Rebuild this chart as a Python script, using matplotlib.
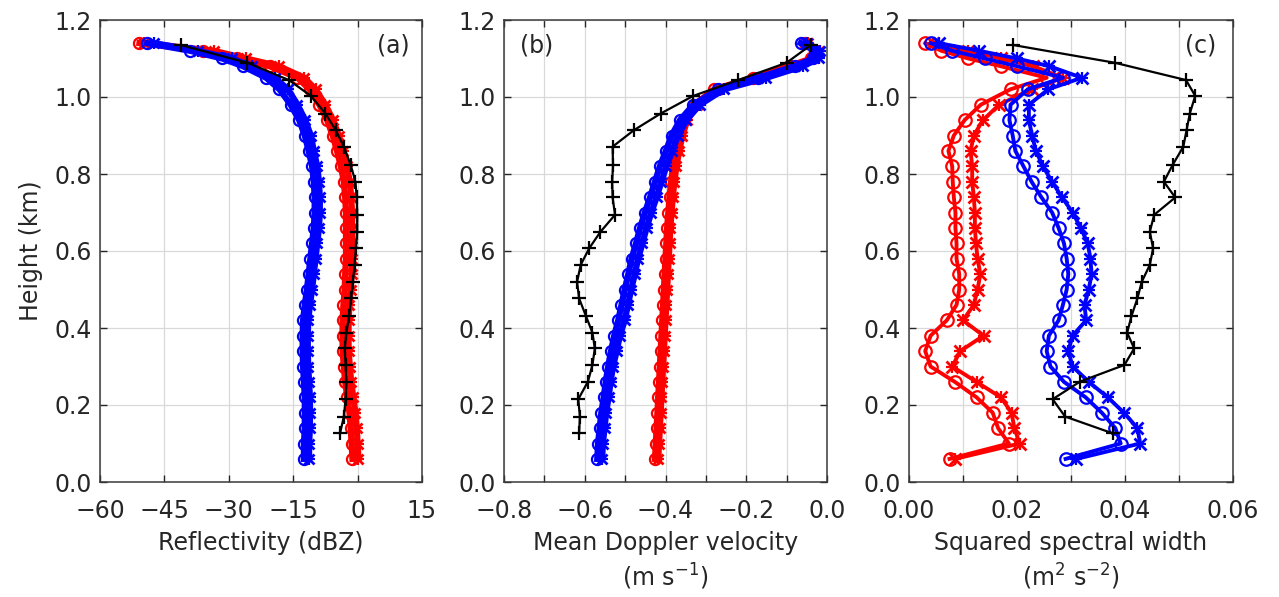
import matplotlib
matplotlib.use("Agg")
import matplotlib.pyplot as plt
from matplotlib.ticker import MultipleLocator, FuncFormatter

plt.rcParams['font.family'] = ['DejaVu Sans']

# heights (km) for red / blue ensembles
h_rb = [0.06, 0.10, 0.14, 0.18, 0.22, 0.26, 0.30, 0.34, 0.38, 0.42, 0.46, 0.50,
        0.54, 0.58, 0.62, 0.66, 0.70, 0.74, 0.78, 0.82, 0.86, 0.90, 0.94, 0.98,
        1.02, 1.05, 1.08, 1.10, 1.12, 1.14]
# heights (km) for black profile
h_blk = [0.126, 0.170, 0.215, 0.261, 0.304, 0.347, 0.388, 0.431, 0.477, 0.520,
         0.564, 0.607, 0.650, 0.694, 0.739, 0.780, 0.823, 0.871, 0.914, 0.957,
         1.003, 1.044, 1.089, 1.135]

# (a) reflectivity (dBZ)
refl_red_1 = [-1.2, -1.4, -1.6, -1.9, -2.4, -2.9, -3.2, -3.5, -3.5, -3.5, -3.3, -3.0,
              -2.9, -2.7, -2.7, -2.7, -2.7, -2.9, -3.2, -3.9, -4.8, -5.8, -7.1, -8.9,
              -11.2, -14.0, -20.5, -28.0, -36.0, -50.8]
refl_red_2 = [0.2, 0.0, -0.2, -0.5, -1.0, -1.5, -1.8, -2.1, -2.1, -2.1, -1.9, -1.6,
              -1.4, -1.3, -1.3, -1.3, -1.3, -1.5, -1.8, -2.5, -3.4, -4.4, -5.7, -7.5,
              -9.8, -12.4, -18.3, -26.0, -33.5, -49.8]
refl_blue_1 = [-12.5, -12.5, -12.3, -12.3, -12.3, -12.5, -12.7, -12.8, -12.8, -12.7, -12.3, -11.8,
               -11.4, -11.0, -10.6, -10.2, -10.0, -10.0, -10.2, -10.6, -11.4, -12.3, -13.6, -15.6,
               -18.2, -21.3, -26.7, -31.5, -39.0, -49.0]
refl_blue_2 = [-11.3, -11.3, -11.1, -11.1, -11.1, -11.3, -11.5, -11.6, -11.6, -11.5, -11.1, -10.6,
               -10.2, -9.8, -9.4, -9.0, -8.8, -8.8, -9.0, -9.4, -10.2, -10.9, -12.2, -14.0,
               -16.2, -19.3, -24.7, -29.3, -37.2, -47.4]
refl_black = [-4.1, -3.2, -2.8, -2.6, -2.8, -3.0, -2.6, -2.0, -1.5, -1.1, -0.7, -0.4,
              -0.1, -0.1, -0.2, -0.5, -1.6, -3.2, -5.1, -7.5, -10.9, -16.0, -25.7, -41.2]

# (b) mean Doppler velocity (m/s)
vel_red_1 = [-0.426, -0.424, -0.422, -0.420, -0.418, -0.416, -0.414, -0.412, -0.410, -0.408,
             -0.406, -0.404, -0.402, -0.400, -0.398, -0.396, -0.393, -0.390, -0.386, -0.381,
             -0.374, -0.366, -0.354, -0.329, -0.279, -0.184, -0.094, -0.039, -0.029, -0.054]
vel_red_2 = [-0.418, -0.416, -0.414, -0.412, -0.410, -0.408, -0.406, -0.404, -0.402, -0.400,
             -0.398, -0.396, -0.394, -0.392, -0.390, -0.388, -0.385, -0.382, -0.378, -0.373,
             -0.366, -0.358, -0.346, -0.321, -0.271, -0.176, -0.086, -0.031, -0.021, -0.046]
vel_blue_1 = [-0.569, -0.567, -0.563, -0.559, -0.553, -0.548, -0.542, -0.535, -0.527, -0.517,
              -0.509, -0.501, -0.492, -0.484, -0.473, -0.463, -0.451, -0.438, -0.426, -0.414,
              -0.399, -0.385, -0.364, -0.331, -0.270, -0.170, -0.080, -0.035, -0.030, -0.065]
vel_blue_2 = [-0.557, -0.555, -0.551, -0.547, -0.541, -0.536, -0.530, -0.521, -0.513, -0.501,
              -0.493, -0.485, -0.476, -0.468, -0.457, -0.447, -0.435, -0.422, -0.410, -0.398,
              -0.383, -0.369, -0.348, -0.315, -0.255, -0.150, -0.060, -0.020, -0.017, -0.050]
vel_black = [-0.614, -0.612, -0.616, -0.592, -0.581, -0.575, -0.581, -0.597, -0.614, -0.619,
             -0.610, -0.589, -0.561, -0.525, -0.531, -0.532, -0.530, -0.531, -0.478, -0.412,
             -0.331, -0.220, -0.100, -0.040]

# (c) squared spectral width (m2/s2)
sw_red_1 = [0.0075, 0.0185, 0.0165, 0.0155, 0.0125, 0.0085, 0.0040, 0.0030, 0.0040, 0.0070,
            0.0088, 0.0093, 0.0093, 0.0088, 0.0088, 0.0086, 0.0086, 0.0083, 0.0081, 0.0080,
            0.0073, 0.0083, 0.0103, 0.0133, 0.0188, 0.0255, 0.0170, 0.0110, 0.0060, 0.0030]
sw_red_2 = [0.0085, 0.0205, 0.0195, 0.0190, 0.0170, 0.0125, 0.0080, 0.0095, 0.0138, 0.0100,
            0.0120, 0.0127, 0.0132, 0.0127, 0.0124, 0.0122, 0.0122, 0.0120, 0.0117, 0.0117,
            0.0114, 0.0120, 0.0137, 0.0167, 0.0227, 0.0285, 0.0230, 0.0170, 0.0110, 0.0045]
sw_blue_1 = [0.0290, 0.0392, 0.0382, 0.0357, 0.0327, 0.0287, 0.0262, 0.0255, 0.0259, 0.0277,
             0.0285, 0.0292, 0.0295, 0.0292, 0.0287, 0.0277, 0.0265, 0.0245, 0.0227, 0.0212,
             0.0197, 0.0192, 0.0186, 0.0188, 0.0220, 0.0285, 0.0200, 0.0140, 0.0080, 0.0040]
sw_blue_2 = [0.0310, 0.0428, 0.0423, 0.0398, 0.0368, 0.0333, 0.0303, 0.0295, 0.0303, 0.0328,
             0.0325, 0.0333, 0.0338, 0.0336, 0.0331, 0.0318, 0.0303, 0.0283, 0.0265, 0.0248,
             0.0235, 0.0228, 0.0222, 0.0222, 0.0258, 0.0320, 0.0260, 0.0200, 0.0130, 0.0055]
sw_black = [0.0378, 0.0289, 0.0266, 0.0317, 0.0399, 0.0417, 0.0404, 0.0412, 0.0423, 0.0431,
            0.0446, 0.0452, 0.0446, 0.0454, 0.0493, 0.0472, 0.0488, 0.0508, 0.0514, 0.0520,
            0.0530, 0.0513, 0.0381, 0.0193]

panels = [
    dict(red=(refl_red_1, refl_red_2), blue=(refl_blue_1, refl_blue_2), black=refl_black,
         xlim=(-60, 15), xmajor=15, xlabels=[-60, -45, -30, -15, 0, 15], fmt="{:.0f}",
         xlabel="Reflectivity (dBZ)", tag="(a)", tagx=0.91, ms=8, lw=4.5),
    dict(red=(vel_red_1, vel_red_2), blue=(vel_blue_1, vel_blue_2), black=vel_black,
         xlim=(-0.8, 0.0), xmajor=0.1, xlabels=[-0.8, -0.6, -0.4, -0.2, 0.0], fmt="{:.1f}",
         xlabel="Mean Doppler velocity\n(m s$^{-1}$)", tag="(b)", tagx=0.1, ms=8, lw=4.5),
    dict(red=(sw_red_1, sw_red_2), blue=(sw_blue_1, sw_blue_2), black=sw_black,
         xlim=(0.0, 0.06), xmajor=0.01, xlabels=[0.0, 0.02, 0.04, 0.06], fmt="{:.2f}",
         xlabel="Squared spectral width\n(m$^2$ s$^{-2}$)", tag="(c)", tagx=0.9, ms=9, lw=2.8),
]

W, H = 1279, 597
lefts = [100, 504, 909]
widths = [322, 323, 324]
bottom_px, top_px = 482, 20

fig = plt.figure(figsize=(W / 100, H / 100), dpi=100)
fs = 17
tc = '#262626'

for i, p in enumerate(panels):
    ax = fig.add_axes([lefts[i] / W, (H - bottom_px) / H, widths[i] / W, (bottom_px - top_px) / H])
    ms, lw = p["ms"], p["lw"]
    for key, col, z in (("red", (1, 0, 0), 3), ("blue", (0, 0, 1), 4)):
        ax.plot(p[key][0], h_rb, color=col, marker='o', ms=ms, mfc='none', mew=1.6, lw=lw, zorder=z)
        ax.plot(p[key][1], h_rb, color=col, marker='x', ms=ms - 1, mew=2.0, lw=lw, zorder=z)
        ax.plot(p[key][1], h_rb, color=col, marker='+', ms=ms, mew=1.6, lw=0, zorder=z)
    ax.plot(p["black"], h_blk, color='black', marker='+', ms=10, mew=1.6, lw=1.6, zorder=5)

    ax.set_xlim(*p["xlim"])
    ax.set_ylim(0, 1.2)
    ax.xaxis.set_major_locator(MultipleLocator(p["xmajor"]))
    labs = p["xlabels"]
    fmt = p["fmt"]
    ax.xaxis.set_major_formatter(FuncFormatter(
        lambda v, pos, labs=labs, fmt=fmt: (fmt.format(0.0 if abs(v) < 1e-9 else v).replace("-", "\u2212")
                                           if any(abs(v - l) < 1e-9 for l in labs) else "")))
    ax.yaxis.set_major_locator(MultipleLocator(0.2))
    ax.yaxis.set_major_formatter(FuncFormatter(lambda v, pos: "{:.1f}".format(0.0 if abs(v) < 1e-9 else v)))
    ax.grid(True, color='#d9d9d9', lw=0.9, zorder=0)
    ax.set_axisbelow(True)
    ax.tick_params(direction='in', top=True, right=True, length=5, width=1.0,
                   labelsize=fs, colors=tc)
    ax.tick_params(axis='x', pad=12)
    ax.tick_params(axis='y', pad=6)
    for s in ax.spines.values():
        s.set_color('#3a3a3a')
        s.set_linewidth(1.1)
    ax.set_xlabel(p["xlabel"], fontsize=fs, color=tc, linespacing=1.3, labelpad=6)
    ax.text(p["tagx"], 0.945, p["tag"], transform=ax.transAxes, fontsize=fs,
            ha='center', va='center', color=tc)
    if i == 0:
        ax.set_ylabel("Height (km)", fontsize=fs, color=tc, labelpad=8)

fig.savefig("out.png", dpi=100)
